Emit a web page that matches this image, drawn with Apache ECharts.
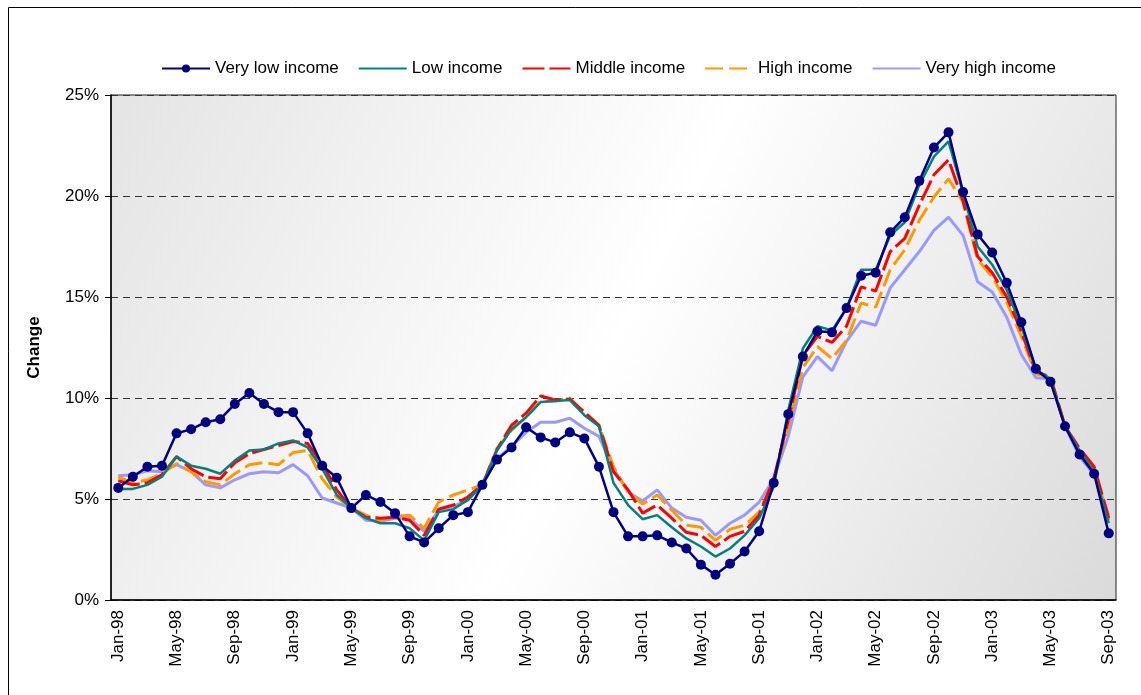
<!DOCTYPE html>
<html>
<head>
<meta charset="utf-8">
<script src="https://cdn.jsdelivr.net/npm/echarts@6/dist/echarts.min.js"></script>
<style>
  html, body { margin: 0; padding: 0; background: #fff; }
  #chart { width: 1141px; height: 695px; }
</style>
</head>
<body>
<div id="chart"></div>
<script>
// month labels, Jan-98 .. Sep-03
var months = [
  'Jan-98','Feb-98','Mar-98','Apr-98','May-98','Jun-98','Jul-98','Aug-98','Sep-98','Oct-98','Nov-98','Dec-98',
  'Jan-99','Feb-99','Mar-99','Apr-99','May-99','Jun-99','Jul-99','Aug-99','Sep-99','Oct-99','Nov-99','Dec-99',
  'Jan-00','Feb-00','Mar-00','Apr-00','May-00','Jun-00','Jul-00','Aug-00','Sep-00','Oct-00','Nov-00','Dec-00',
  'Jan-01','Feb-01','Mar-01','Apr-01','May-01','Jun-01','Jul-01','Aug-01','Sep-01','Oct-01','Nov-01','Dec-01',
  'Jan-02','Feb-02','Mar-02','Apr-02','May-02','Jun-02','Jul-02','Aug-02','Sep-02','Oct-02','Nov-02','Dec-02',
  'Jan-03','Feb-03','Mar-03','Apr-03','May-03','Jun-03','Jul-03','Aug-03','Sep-03'
];

// yearly change, percent
var veryLow = [5.55,6.1,6.6,6.65,8.25,8.45,8.8,8.95,9.7,10.25,9.7,9.3,9.3,8.25,6.65,6.05,4.55,5.2,4.85,4.3,
  3.15,2.85,3.55,4.2,4.35,5.7,6.95,7.55,8.55,8.05,7.8,8.3,8.0,6.6,4.35,3.15,3.15,3.2,2.85,2.55,
  1.75,1.25,1.8,2.4,3.4,5.8,9.2,12.05,13.3,13.25,14.45,16.05,16.2,18.2,18.95,20.75,22.4,23.15,20.2,18.1,
  17.2,15.7,13.75,11.45,10.8,8.6,7.2,6.25,3.3];
var low = [5.5,5.5,5.7,6.1,7.1,6.65,6.5,6.25,6.9,7.4,7.45,7.75,7.9,7.55,
  6.5,5.2,4.55,4.05,3.8,3.8,3.55,2.95,4.35,4.5,4.95,
  5.7,7.4,8.45,9.05,9.8,9.85,9.9,9.15,8.6,5.8,4.7,
  4.0,4.2,3.6,3.05,2.65,2.15,2.55,3.2,4.05,5.6,9.4,
  12.45,13.55,13.35,14.45,16.35,16.35,18.05,18.7,20.55,21.95,22.7,
  20.15,17.5,16.6,15.35,13.55,11.4,10.95,8.6,7.4,6.35,3.8];
var middle = [5.9,5.7,5.8,6.2,7.1,6.5,6.1,6.0,6.8,7.25,7.45,7.65,7.85,7.75,
  6.75,5.45,4.55,4.1,4.05,4.1,3.95,3.2,4.5,4.7,5.1,
  5.7,7.45,8.65,9.25,10.1,9.9,9.95,9.3,8.65,6.35,5.45,
  4.3,4.7,4.05,3.35,3.2,2.65,3.15,3.4,4.2,6.0,8.9,
  12.1,13.05,12.75,13.55,15.5,15.3,17.25,17.9,19.55,21.05,21.8,
  19.75,17.0,16.2,15.0,13.3,11.3,11.05,8.6,7.5,6.6,4.05];
var high = [6.1,5.8,5.95,6.25,6.75,6.35,5.85,5.7,6.25,6.7,6.8,6.7,7.3,7.4,
  6.0,5.1,4.55,4.2,3.95,4.15,4.2,3.55,4.85,5.2,5.45,
  5.7,7.5,8.4,9.05,9.85,9.85,10.0,9.25,8.65,6.6,5.35,
  4.75,5.2,4.45,3.7,3.6,2.95,3.5,3.7,4.35,5.95,8.6,
  11.5,12.55,11.95,12.85,14.7,14.5,16.35,17.35,18.8,19.95,20.85,
  19.7,16.85,16.0,14.75,13.05,11.2,11.05,8.6,7.35,6.45,3.95];
var veryHigh = [6.15,6.2,6.4,6.35,6.7,6.35,5.7,5.55,5.95,6.25,6.35,6.3,6.7,6.15,
  5.05,4.8,4.55,3.95,3.9,4.05,4.05,3.4,4.45,4.65,4.95,
  5.7,7.0,7.6,8.3,8.8,8.8,9.0,8.5,8.1,6.5,5.35,
  4.9,5.45,4.55,4.1,3.95,3.2,3.8,4.2,4.85,6.0,8.1,
  11.05,12.05,11.35,12.8,13.8,13.6,15.45,16.35,17.25,18.3,18.95,
  18.05,15.75,15.25,14.0,12.15,11.0,10.95,8.6,7.1,6.2,4.2];

var seriesNames = ['Very low income','Low income','Middle income','High income','Very high income'];

var font = 'Liberation Sans, Arial, sans-serif';

var chart = echarts.init(document.getElementById('chart'));

// only the first series carries a marker in the legend
var legendData = seriesNames.map(function(n, i){
  if (i == 0) return { name: n };
  return { name: n, itemStyle: { opacity: 0 } };
});

var option = {
  animation: false,
  backgroundColor: '#fff',
  textStyle: { fontFamily: font },
  graphic: [{
    type: 'rect',
    shape: { x: 8.5, y: 7.5, width: 1160, height: 720 },
    style: { fill: 'none', stroke: '#000', lineWidth: 1 },
    silent: true
  }],
  legend: {
    top: 55,
    left: 156,
    itemWidth: 48,
    itemHeight: 10,
    itemGap: 19,
    textStyle: { fontSize: 17, color: '#000', fontFamily: font },
    data: legendData
  },
  grid: {
    left: 111, right: 25, top: 95, bottom: 95,
    show: true,
    borderColor: '#222',
    borderWidth: 1,
    backgroundColor: new echarts.graphic.LinearGradient(0, 0, 1, 1, [
      { offset: 0, color: '#e4e4e4' },
      { offset: 0.5, color: '#ffffff' },
      { offset: 1, color: '#dadada' }
    ])
  },
  xAxis: {
    type: 'category',
    data: months,
    boundaryGap: true,
    axisLine: { lineStyle: { color: '#000', width: 1.5 } },
    axisTick: { interval: 3, length: 6, lineStyle: { color: '#000' } },
    axisLabel: { interval: 3, rotate: 90, fontSize: 17, color: '#000', margin: 10, fontFamily: font },
    splitLine: { show: false }
  },
  yAxis: {
    type: 'value',
    min: 0, max: 25, interval: 5,
    name: 'Change',
    nameLocation: 'middle',
    nameGap: 68,
    nameRotate: 90,
    nameTextStyle: { fontSize: 17, fontWeight: 'bold', color: '#000', fontFamily: font },
    axisLine: { show: true, lineStyle: { color: '#000', width: 1.5 } },
    axisTick: { show: true, length: 6, lineStyle: { color: '#000' } },
    axisLabel: { formatter: '{value}%', fontSize: 17, color: '#000', margin: 12, fontFamily: font },
    splitLine: { show: true, lineStyle: { color: '#333', type: [7, 5], width: 1 } }
  },
  series: [
    {
      name: seriesNames[0], type: 'line', data: veryLow, z: 7,
      symbol: 'circle', symbolSize: 10, showSymbol: true, showAllSymbol: true,
      itemStyle: { color: '#000080' },
      lineStyle: { color: '#000080', width: 2.5 }
    },
    {
      name: seriesNames[1], type: 'line', data: low, z: 6, symbol: 'none',
      itemStyle: { color: '#008080' },
      lineStyle: { color: '#008080', width: 2.5 }
    },
    {
      name: seriesNames[2], type: 'line', data: middle, z: 5, symbol: 'none',
      itemStyle: { color: '#ff0000' },
      lineStyle: { color: '#ff0000', width: 3, type: [22, 5] }
    },
    {
      name: seriesNames[3], type: 'line', data: high, z: 4, symbol: 'none',
      itemStyle: { color: '#ff9900' },
      lineStyle: { color: '#ff9900', width: 3, type: [18, 6] }
    },
    {
      name: seriesNames[4], type: 'line', data: veryHigh, z: 3, symbol: 'none',
      itemStyle: { color: '#9999ff' },
      lineStyle: { color: '#9999ff', width: 3 }
    }
  ]
};

chart.setOption(option);
</script>
</body>
</html>
